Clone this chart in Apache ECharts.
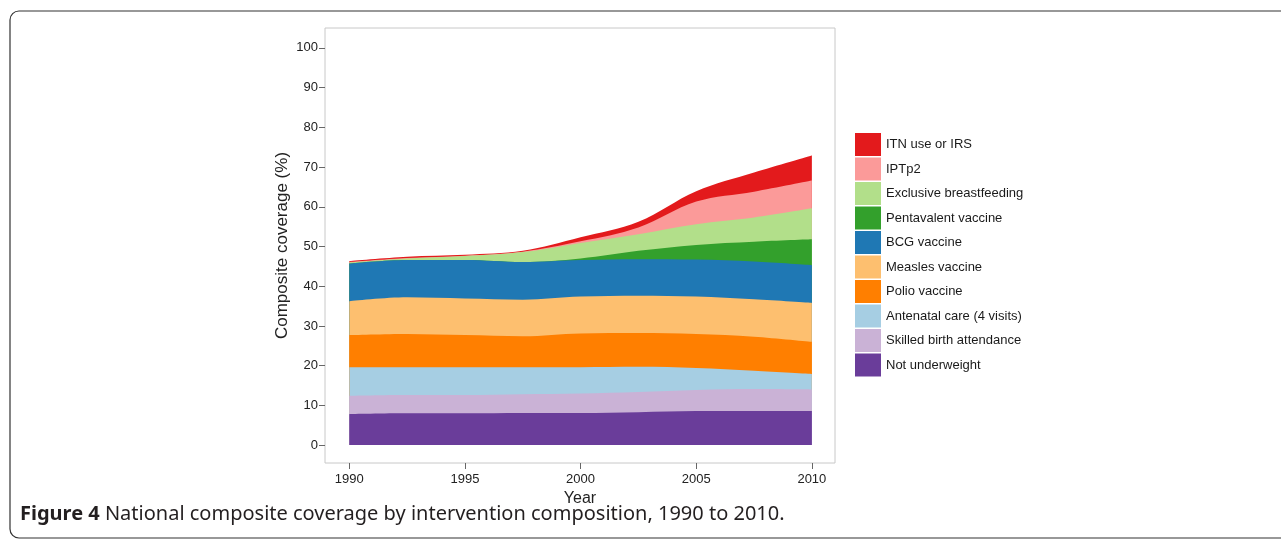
<!DOCTYPE html>
<html>
<head>
<meta charset="utf-8">
<script src="https://cdn.jsdelivr.net/npm/echarts@6/dist/echarts.min.js"></script>
<style>
	html, body { margin: 0; padding: 0; background: #fff; }
	#chart { width: 1281px; height: 545px; }
</style>
</head>
<body>
<div id="chart"></div>
<script>
// years
const years = [1990, 1992.5, 1995, 1997.5, 2000, 2002.5, 2005, 2007.5, 2010]
const yearTicks = [1990, 1995, 2000, 2005, 2010]
const coverageTicks = [0, 10, 20, 30, 40, 50, 60, 70, 80, 90, 100]

// layer thickness (percentage points), bottom to top
const notUnderweight = [7.8, 8.0, 8.0, 8.1, 8.1, 8.3, 8.6, 8.6, 8.6]
const skilledBirth = [4.6, 4.6, 4.6, 4.7, 4.9, 5.1, 5.3, 5.5, 5.4]
const antenatalCare = [7.2, 7.0, 7.0, 6.8, 6.6, 6.3, 5.5, 4.6, 3.9]
const polio = [8.1, 8.4, 8.1, 7.8, 8.5, 8.5, 8.6, 8.6, 8.1]
const measles = [8.5, 9.2, 9.2, 9.2, 9.3, 9.4, 9.4, 9.4, 9.8]
const bcg = [9.5, 9.4, 9.7, 9.5, 9.2, 9.2, 9.3, 9.5, 9.5]
const pentavalent = [0, 0, 0, 0, 0.4, 2.1, 3.7, 5.0, 6.5]
const breastfeeding = [0.3, 0.4, 1.0, 2.5, 3.9, 4.2, 5.2, 6.1, 7.8]
const iptp2 = [0.1, 0.1, 0.1, 0.1, 0.4, 1.7, 5.7, 6.5, 7.0]
const itn = [0.2, 0.3, 0.2, 0.2, 1.0, 1.4, 2.6, 4.8, 6.3]

const layers = [
	{ name: 'Not underweight', values: notUnderweight, color: '#6a3d9a' },
	{ name: 'Skilled birth attendance', values: skilledBirth, color: '#cab2d6' },
	{ name: 'Antenatal care (4 visits)', values: antenatalCare, color: '#a6cee3' },
	{ name: 'Polio vaccine', values: polio, color: '#ff7f00' },
	{ name: 'Measles vaccine', values: measles, color: '#fdbf6f' },
	{ name: 'BCG vaccine', values: bcg, color: '#1f78b4' },
	{ name: 'Pentavalent vaccine', values: pentavalent, color: '#33a02c' },
	{ name: 'Exclusive breastfeeding', values: breastfeeding, color: '#b2df8a' },
	{ name: 'IPTp2', values: iptp2, color: '#fb9a99' },
	{ name: 'ITN use or IRS', values: itn, color: '#e31a1c' }
]

// running totals, so each layer is an area from 0 up to its own top
let running = years.map(() => 0)
layers.forEach((l) => {
	running = running.map((v, i) => v + l.values[i])
	l.top = running.slice()
})

// top layer first so the lower ones are painted over it
const drawOrder = layers.slice().reverse()

const axisFont = 'Liberation Sans, Arial, sans-serif'

const chart = echarts.init(document.getElementById('chart'), null, { renderer: 'canvas' })

chart.setOption({
	animation: false,
	backgroundColor: '#fff',
	grid: {
		left: 325,
		top: 28,
		width: 510,
		height: 435,
		show: true,
		borderColor: '#c8c8c8',
		borderWidth: 1
	},
	legend: {
		orient: 'vertical',
		left: 850,
		top: 128,
		itemWidth: 26,
		itemHeight: 23,
		itemGap: 1.5,
		icon: 'rect',
		selectedMode: false,
		data: drawOrder.map((l) => l.name),
		textStyle: { fontFamily: axisFont, fontSize: 13, color: '#1a1a1a' }
	},
	xAxis: {
		type: 'value',
		min: 1988.95,
		max: 2011,
		name: 'Year',
		nameLocation: 'middle',
		nameGap: 18,
		nameTextStyle: { fontFamily: axisFont, fontSize: 16, color: '#222' },
		splitLine: { show: false },
		axisLine: { show: false, onZero: false },
		axisTick: { show: true, inside: false, length: 6, customValues: yearTicks, lineStyle: { color: '#666' } },
		axisLabel: {
			customValues: yearTicks,
			margin: 10,
			formatter: (v) => String(v),
			fontFamily: axisFont,
			fontSize: 13,
			color: '#222'
		}
	},
	yAxis: {
		type: 'value',
		min: -4.5,
		max: 105,
		name: 'Composite coverage (%)',
		nameLocation: 'middle',
		nameGap: 34,
		nameTextStyle: { fontFamily: axisFont, fontSize: 17, color: '#222' },
		splitLine: { show: false },
		axisLine: { show: false, onZero: false },
		axisTick: { show: true, inside: false, length: 6, customValues: coverageTicks, lineStyle: { color: '#666' } },
		axisLabel: { customValues: coverageTicks, margin: 7, fontFamily: axisFont, fontSize: 13, color: '#222' }
	},
	series: drawOrder.map((l) => ({
		name: l.name,
		type: 'line',
		smooth: 0.35,
		showSymbol: false,
		symbol: 'none',
		color: l.color,
		lineStyle: { width: 0 },
		areaStyle: { color: l.color, opacity: 1, origin: 0 },
		data: years.map((y, i) => [y, l.top[i]])
	})),
	graphic: [
		// figure frame
		{
			type: 'rect',
			shape: { x: 10, y: 11, width: 1300, height: 527, r: 9 },
			style: { fill: 'none', stroke: '#333', lineWidth: 1.2 },
			silent: true
		},
		// caption
		{
			type: 'text',
			left: 20,
			top: 504,
			style: {
				text: '{b|Figure 4} National composite coverage by intervention composition, 1990 to 2010.',
				rich: {
					b: { fontFamily: 'Noto Sans, sans-serif', fontWeight: 'bold', fontSize: 20, fill: '#231f20' }
				},
				fontFamily: 'Noto Sans, sans-serif',
				fontSize: 20,
				fill: '#231f20'
			}
		}
	]
})
</script>
</body>
</html>
